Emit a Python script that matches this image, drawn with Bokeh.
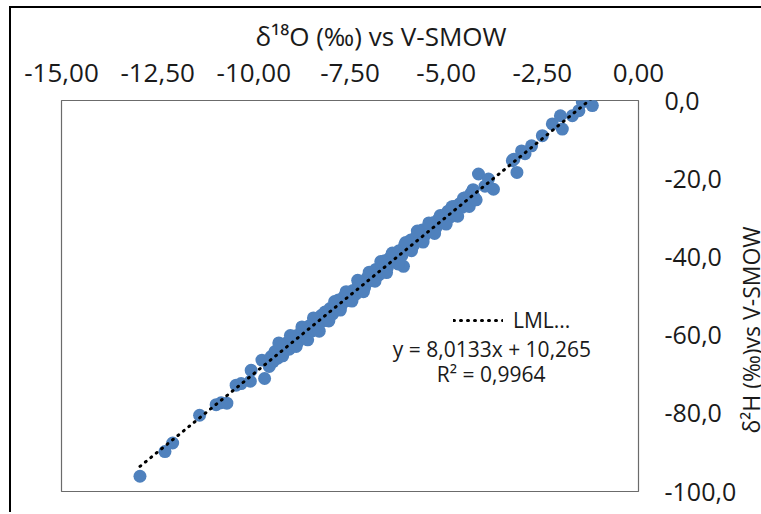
import math
from bokeh.plotting import figure
from bokeh.layouts import row
from bokeh.core.properties import value
from bokeh.models import (Range1d, FixedTicker, Legend, LegendItem, Label, Title,
                          ColumnDataSource)
from bokeh.embed import file_html
from bokeh.resources import INLINE

# ---- data ----
d18O = [-12.96, -12.31, -12.11, -11.41, -10.98, -10.85, -10.70, -10.46, -10.33, -10.09,
        -10.07, -9.79, -9.72, -9.55,
        -9.45, -9.38, -9.30, -9.22, -9.15, -9.08, -9.00, -8.93, -8.86, -8.78,
        -8.70, -8.63, -8.55, -8.48, -8.40, -8.33, -8.25, -8.18, -8.10, -8.02,
        -7.95, -7.88, -7.80, -7.73, -7.65, -7.58, -7.50, -7.42, -7.35, -7.28,
        -7.20, -7.12, -7.05, -6.98, -6.90, -6.83, -6.75, -6.68, -6.60, -6.53,
        -6.45, -6.38, -6.30, -6.22, -6.15, -6.11, -6.08, -6.00, -5.92, -5.85,
        -5.78, -5.70, -5.62, -5.55, -5.48, -5.40, -5.32, -5.25, -5.18, -5.10,
        -5.02, -4.95, -4.88, -4.80, -4.73, -4.65, -4.58, -4.50, -4.43, -4.35,
        -4.28,
        -9.60, -9.50, -9.35, -9.25, -9.05, -8.90, -8.75, -8.60, -8.45, -8.30,
        -8.15, -8.05, -7.90, -7.75, -7.60, -7.45, -7.30, -7.15, -7.00, -6.85,
        -6.70, -6.55, -6.40, -6.25, -6.05, -5.90, -5.75, -5.60, -5.45, -5.30,
        -5.15, -5.00, -4.85, -4.70, -4.55, -4.40, -4.30, -4.22,
        -4.16, -3.99, -3.90, -3.77, -3.28, -3.24, -3.16, -3.04, -2.95, -2.78,
        -2.50, -2.24, -2.03, -1.98, -1.72, -1.55, -1.46, -1.28, -1.20]
d2H = [-96.1, -89.8, -87.6, -80.5, -77.8, -77.3, -77.4, -72.8, -72.4, -71.8,
       -69.0, -66.4, -71.1, -65.5,
       -64.2, -65.9, -63.1, -63.8, -62.0, -63.6, -61.3, -60.2, -61.8, -59.4,
       -58.5, -60.1, -57.6, -58.9, -56.4, -57.8, -55.0, -56.3, -54.9, -53.2,
       -54.6, -52.3, -51.0, -52.4, -50.1, -51.2, -49.0, -48.6, -49.5, -47.0,
       -46.4, -47.8, -45.3, -46.1, -44.0, -43.2, -44.6, -42.1, -41.0, -42.8,
       -40.1, -39.5, -41.2, -38.4, -39.6, -42.4, -36.9, -37.8, -35.7, -37.0,
       -34.9, -35.6, -33.1, -34.4, -32.6, -33.0, -31.2, -32.3, -30.1, -31.0,
       -29.2, -28.3, -29.7, -27.1, -28.2, -26.4, -27.3, -24.9, -25.8, -23.7,
       -24.6,
       -68.0, -66.8, -62.0, -65.3, -60.1, -62.9, -57.9, -61.2, -55.6, -59.0,
       -54.1, -56.4, -51.4, -53.6, -48.9, -51.3, -46.0, -48.9, -43.9, -46.2,
       -41.2, -44.0, -39.0, -41.8, -36.3, -38.4, -33.4, -36.2, -31.3, -34.0,
       -29.4, -31.6, -27.2, -29.6, -25.0, -27.1, -22.8, -25.4,
       -18.8, -21.9, -20.1, -22.7, -15.4, -15.0, -18.4, -12.9, -13.6, -11.6,
       -9.0, -6.0, -3.9, -7.3, -3.9, -2.6, -0.4, 0.0, -1.3]

slope = 8.0133
intercept = 10.265
eq_text = "y = 8,0133x + 10,265"
r2_text = "R² = 0,9964"
legend_label = "LML..."

x_ticks = [-15.0, -12.5, -10.0, -7.5, -5.0, -2.5, 0.0]
x_tick_labels = ["-15,00", "-12,50", "-10,00", "-7,50", "-5,00", "-2,50", "0,00"]
y_ticks = [0, -20, -40, -60, -80, -100]
y_tick_labels = ["0,0", "-20,0", "-40,0", "-60,0", "-80,0", "-100,0"]

x_title = "δ¹⁸O (‰) vs V-SMOW"
y_title = "δ²H (‰)vs V-SMOW"

FONT = "Open Sans"
TXT = "#1a1a1a"
BLUE = "#4F81BD"

p = figure(frame_width=575, frame_height=389, output_backend="svg", toolbar_location=None,
           x_range=Range1d(-15, 0), y_range=Range1d(-100, 0),
           x_axis_location="above", y_axis_location="right",
           min_border_left=50, min_border_right=99, min_border_top=92, min_border_bottom=23,
           title=None)
p.styles = {"border-left": "2px solid #000", "border-top": "2px solid #000",
            "margin-left": "9px", "margin-top": "6px"}

p.grid.visible = False
p.outline_line_color = "#6b6b6b"
p.outline_line_width = 1.2
p.background_fill_color = "white"
p.border_fill_color = "white"

src = ColumnDataSource(dict(x=d18O, y=d2H))
p.scatter("x", "y", source=src, size=13, fill_color=BLUE, line_color=None)

tx = [min(d18O), max(d18O)]
ty = [slope * v + intercept for v in tx]
trend = p.line(tx, ty, line_color="black", line_width=3, line_dash="1 6", line_cap="round")

xa = p.xaxis[0]
xa.ticker = FixedTicker(ticks=x_ticks)
xa.major_label_overrides = {t: l for t, l in zip(x_ticks, x_tick_labels)}
ya = p.yaxis[0]
ya.ticker = FixedTicker(ticks=y_ticks)
ya.major_label_overrides = {t: l for t, l in zip(y_ticks, y_tick_labels)}

for ax in (xa, ya):
    ax.axis_line_color = None
    ax.major_tick_line_color = None
    ax.minor_tick_line_color = None
    ax.major_tick_out = 0
    ax.major_tick_in = 0
    ax.major_label_text_font = FONT
    ax.major_label_text_color = TXT

xa.major_label_text_font_size = "26px"
ya.major_label_text_font_size = "25px"
xa.major_label_standoff = 19
ya.major_label_standoff = 26

p.add_layout(Title(text=x_title, align="left", offset=194, text_font=FONT,
                   text_font_size="26px", text_font_style="normal", text_color=TXT,
                   standoff=14), "above")

leg = Legend(items=[LegendItem(label=legend_label, renderers=[trend])],
             location=(392, 157), glyph_width=50, glyph_height=20, label_height=20,
             label_standoff=10, padding=0, margin=0, spacing=0,
             border_line_color=None, background_fill_alpha=0,
             label_text_font=FONT, label_text_font_size="21px", label_text_color=TXT)
p.add_layout(leg)

p.add_layout(Label(x=-3.81, y=-63.5, text=eq_text, text_align="center", text_baseline="middle",
                   text_font=FONT, text_font_size="21px", text_color=TXT))
p.add_layout(Label(x=-3.83, y=-69.9, text=r2_text, text_align="center", text_baseline="middle",
                   text_font=FONT, text_font_size="21px", text_color=TXT))

# narrow side panel carrying the upward-reading y axis title
p2 = figure(width=26, height=504, output_backend="svg", toolbar_location=None,
            x_range=Range1d(0, 1), y_range=Range1d(0, 1),
            x_axis_type=None, y_axis_type=None, min_border=0, title=None)
p2.styles = {"border-top": "2px solid #000", "margin-top": "6px"}
p2.grid.visible = False
p2.outline_line_color = None
p2.background_fill_color = "white"
p2.border_fill_color = "white"
p2.text(x=[0.5], y=[0.41], text=[y_title], angle=math.pi / 2,
        text_align="center", text_baseline="middle",
        text_font=value(FONT), text_font_size="23px", text_color=TXT)

layout = row(p, p2, spacing=0)

open("out.html", "w").write(file_html(layout, INLINE))
